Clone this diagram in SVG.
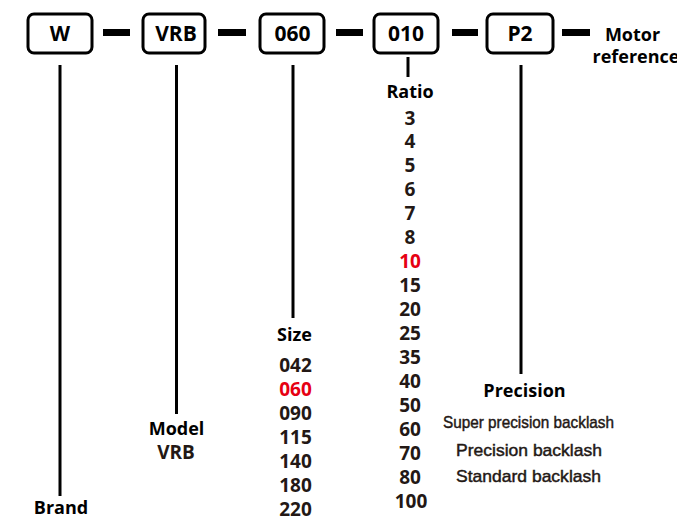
<svg xmlns="http://www.w3.org/2000/svg" width="677" height="519" viewBox="0 0 677 519">
<style>
.box rect{fill:#fff;stroke:#000;stroke-width:3}
.box text{font-family:"Open Sans","DejaVu Sans",sans-serif;font-weight:bold;font-size:21px;fill:#000;text-anchor:middle}
.lbl{font-family:"Open Sans","DejaVu Sans",sans-serif;font-weight:bold;font-size:18px;fill:#000;text-anchor:middle}
.val{font-family:"Open Sans","DejaVu Sans",sans-serif;font-weight:bold;font-size:19px;fill:#231815;text-anchor:middle}
.red{fill:#e60012}
.nar{font-family:"Liberation Sans Narrow","Liberation Sans",sans-serif;font-size:17px;fill:#231815;stroke:#231815;stroke-width:0.45}
.dash{stroke:#000;stroke-width:7}
.ln{stroke:#000;stroke-width:3}
</style>
<rect width="677" height="519" fill="#fff"/>
<g id="connectors">
<line class="dash" x1="103" y1="32.5" x2="130" y2="32.5"/>
<line class="dash" x1="218" y1="32.5" x2="246" y2="32.5"/>
<line class="dash" x1="336" y1="32.5" x2="363" y2="32.5"/>
<line class="dash" x1="452" y1="32.5" x2="478" y2="32.5"/>
<line class="dash" x1="562" y1="32.5" x2="590" y2="32.5"/>
<line class="ln" x1="60" y1="65" x2="60" y2="496"/>
<line class="ln" x1="176.5" y1="65" x2="176.5" y2="414"/>
<line class="ln" x1="293" y1="65" x2="293" y2="318"/>
<line class="ln" x1="408" y1="57" x2="408" y2="77"/>
<line class="ln" x1="521" y1="65" x2="521" y2="374"/>
</g>
<g id="box-w" class="box"><rect x="28" y="14" width="64" height="39" rx="6"/><text x="60" y="40.5">W</text></g>
<g id="box-vrb" class="box"><rect x="143" y="14" width="62" height="39" rx="6"/><text x="176" y="40.5">VRB</text></g>
<g id="box-060" class="box"><rect x="260" y="14" width="64" height="39" rx="6"/><text x="292.5" y="40.5">060</text></g>
<g id="box-010" class="box"><rect x="374" y="14" width="64" height="39" rx="6"/><text x="406" y="40.5">010</text></g>
<g id="box-p2" class="box"><rect x="487" y="14" width="66" height="39" rx="6"/><text x="520" y="40.5">P2</text></g>
<g id="motor">
<text class="lbl" x="632.5" y="41">Motor</text>
<text class="lbl" x="636" y="63">reference</text>
</g>
<g id="brand"><text class="lbl" x="61" y="514">Brand</text></g>
<g id="model">
<text class="lbl" x="176.5" y="435">Model</text>
<text class="val" x="176" y="459">VRB</text>
</g>
<g id="size">
<text class="lbl" x="294.5" y="341">Size</text>
<text class="val" x="295.5" y="372">042</text>
<text class="val red" x="295.5" y="396">060</text>
<text class="val" x="295.5" y="420">090</text>
<text class="val" x="295.5" y="444">115</text>
<text class="val" x="295.5" y="468">140</text>
<text class="val" x="295.5" y="492">180</text>
<text class="val" x="295.5" y="515.5">220</text>
</g>
<g id="ratio">
<text class="lbl" x="410" y="98">Ratio</text>
<text class="val" x="410" y="124.5">3</text>
<text class="val" x="410" y="148.4">4</text>
<text class="val" x="410" y="172.4">5</text>
<text class="val" x="410" y="196.3">6</text>
<text class="val" x="410" y="220.3">7</text>
<text class="val" x="410" y="244.2">8</text>
<text class="val red" x="410" y="268.1">10</text>
<text class="val" x="410" y="292.1">15</text>
<text class="val" x="410" y="316">20</text>
<text class="val" x="410" y="340">25</text>
<text class="val" x="410" y="363.9">35</text>
<text class="val" x="410" y="387.8">40</text>
<text class="val" x="410" y="411.8">50</text>
<text class="val" x="410" y="435.7">60</text>
<text class="val" x="410" y="459.7">70</text>
<text class="val" x="410" y="483.6">80</text>
<text class="val" x="411" y="507.5">100</text>
</g>
<g id="precision">
<text class="lbl" x="524.5" y="397">Precision</text>
<text class="nar" x="443" y="428" textLength="171" lengthAdjust="spacingAndGlyphs">Super precision backlash</text>
<text class="nar" x="456" y="456" textLength="146" lengthAdjust="spacingAndGlyphs">Precision backlash</text>
<text class="nar" x="456" y="482" textLength="145" lengthAdjust="spacingAndGlyphs">Standard backlash</text>
</g>
</svg>
